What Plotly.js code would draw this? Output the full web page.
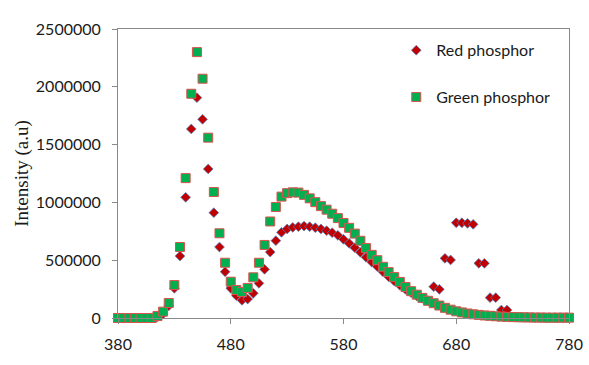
<!DOCTYPE html>
<html>
<head>
<meta charset="utf-8">
<script src="https://cdn.plot.ly/plotly-3.0.1.min.js"></script>
<style>html,body{margin:0;padding:0;background:#fff;}#chart{width:589px;height:365px;}</style>
</head>
<body>
<div id="chart"></div>
<script>
const wavelength = [380,385,390,395,400,405,410,415,420,425,430,435,440,445,450,455,460,465,470,475,480,485,490,495,500,505,510,515,520,525,530,535,540,545,550,555,560,565,570,575,580,585,590,595,600,605,610,615,620,625,630,635,640,645,650,655,660,665,670,675,680,685,690,695,700,705,710,715,720,725,730,735,740,745,750,755,760,765,770,775,780];

const redPhosphor = [0,0,0,0,0,0,0,10000,35000,105000,257000,536000,1044000,1635000,1906000,1719000,1289000,911000,614000,400000,257000,193000,153000,164000,214000,300000,421000,570000,669000,741000,770000,784000,790000,795000,790000,781000,770000,755000,738000,715000,681000,646000,608000,568000,525000,484000,444000,400000,357000,320000,283000,248000,219000,190000,170000,150000,271000,248000,516000,502000,824000,824000,819000,810000,473000,473000,176000,176000,69000,69000,10000,6000,4000,3000,2000,2000,1000,1000,1000,1000,1000];

const greenPhosphor = [0,0,0,0,0,0,0,17000,55000,130000,285000,614000,1210000,1940000,2300000,2070000,1560000,1090000,733000,478000,314000,242000,225000,260000,352000,478000,632000,835000,960000,1050000,1080000,1087000,1085000,1065000,1035000,1002000,968000,937000,902000,864000,822000,780000,730000,668000,605000,546000,500000,443000,397000,354000,312000,268000,232000,202000,174000,149000,128000,108000,88000,72000,58000,48000,39000,32000,27000,22000,19000,15000,12000,10000,8000,7000,6000,5000,4000,4000,3000,3000,3000,3000,3000];

const xTicks = [380,480,580,680,780];
const yTicks = [0,500000,1000000,1500000,2000000,2500000];

const sans = 'Lato, "Open Sans", sans-serif';
const axisGrey = '#898989';

const traces = [
  {
    x: wavelength, y: redPhosphor, name: 'Red phosphor', type: 'scatter', mode: 'markers',
    cliponaxis: false, legendgroup: 'r',
    marker: {symbol: 'diamond', size: 7.5, color: '#C00000', line: {color: 'rgba(79,129,189,0.75)', width: 1}}
  },
  {
    x: wavelength, y: greenPhosphor, name: 'Green phosphor', type: 'scatter', mode: 'markers',
    cliponaxis: false, legendgroup: 'g',
    marker: {symbol: 'square', size: 9, color: '#00B050', line: {color: '#D9534F', width: 1}}
  }
];

const layout = {
  width: 589, height: 365,
  margin: {l: 118, r: 20, t: 29, b: 47, pad: 0},
  paper_bgcolor: '#fff', plot_bgcolor: '#fff',
  font: {family: sans, size: 16, color: '#1a1a1a'},
  showlegend: true,
  legend: {x: 0.617, y: 0.985, xanchor: 'left', yanchor: 'top', bgcolor: 'rgba(0,0,0,0)',
           font: {family: sans, size: 16, color: '#1a1a1a'}, tracegroupgap: 23, itemclick: false},
  xaxis: {
    range: [380, 780], tickvals: xTicks, ticktext: xTicks.map(String),
    showline: true, mirror: true, linecolor: axisGrey, linewidth: 1,
    ticks: 'outside', ticklen: 5, tickcolor: axisGrey, showgrid: false, zeroline: false,
    tickfont: {family: sans, size: 16, color: '#1a1a1a'}, ticklabelstandoff: 7
  },
  yaxis: {
    range: [0, 2500000], tickvals: yTicks, ticktext: yTicks.map(String),
    showline: true, mirror: true, linecolor: axisGrey, linewidth: 1,
    ticks: 'outside', ticklen: 5, tickcolor: axisGrey, showgrid: false, zeroline: false,
    tickfont: {family: sans, size: 16, color: '#1a1a1a'}, ticklabelstandoff: 8,
    title: {text: 'Intensity (a.u)', font: {family: '"Liberation Serif", "Times New Roman", serif', size: 19, color: '#1a1a1a'}, standoff: 2}
  }
};

Plotly.newPlot('chart', traces, layout, {staticPlot: true, displayModeBar: false});
</script>
</body>
</html>
